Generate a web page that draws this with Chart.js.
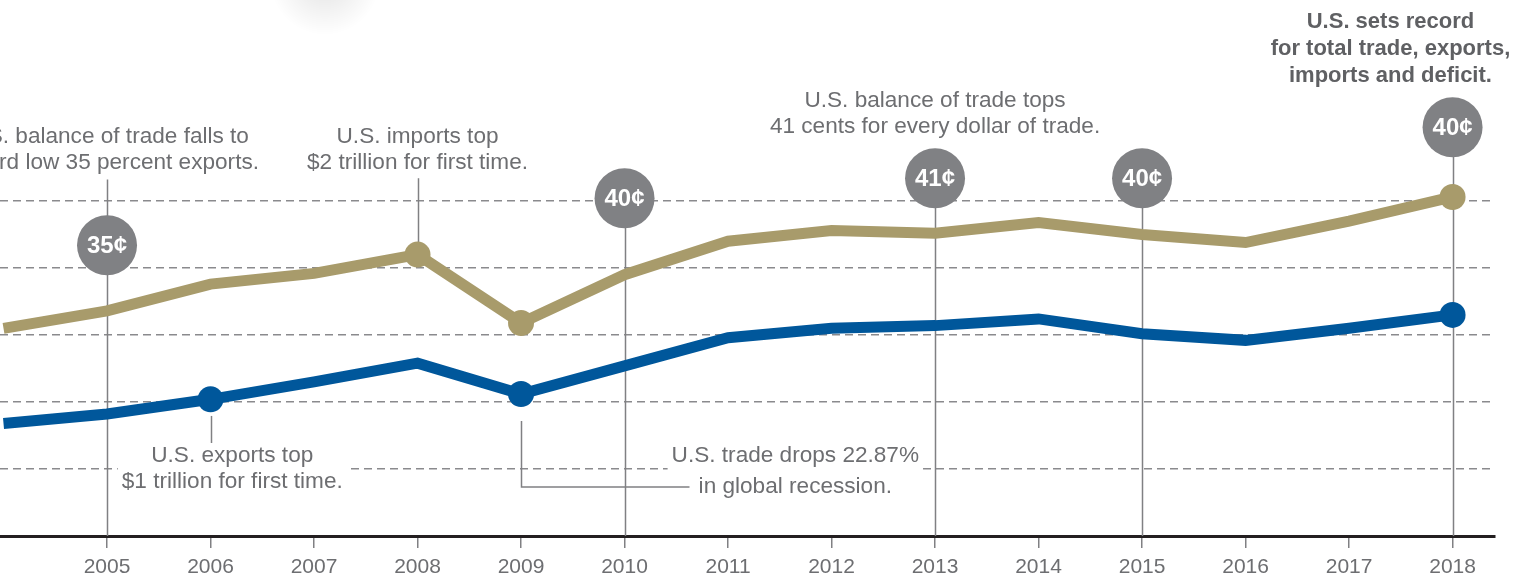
<!DOCTYPE html>
<html>
<head>
<meta charset="utf-8">
<script src="https://cdn.jsdelivr.net/npm/chart.js@4/dist/chart.umd.min.js"></script>
<style>
  html, body { margin: 0; padding: 0; background: #fff; }
  #wrap { width: 1525px; height: 586px; position: relative; }
</style>
</head>
<body>
<div id="wrap"><canvas id="chart"></canvas></div>
<script>
// values in $ trillions
const years = [2004, 2005, 2006, 2007, 2008, 2009, 2010, 2011, 2012, 2013, 2014, 2015, 2016, 2017, 2018];
const imports = [1.55, 1.68, 1.88, 1.96, 2.10, 1.59, 1.95, 2.20, 2.28, 2.26, 2.34, 2.25, 2.19, 2.35, 2.53];
const exports = [0.84, 0.91, 1.02, 1.15, 1.29, 1.06, 1.27, 1.48, 1.55, 1.57, 1.62, 1.51, 1.46, 1.55, 1.65];
const importsMarked = [2008, 2009, 2018];
const exportsMarked = [2006, 2009, 2018];
const gridValues = [0.5, 1.0, 1.5, 2.0, 2.5];

// cents of each trade dollar that were exports
const bubbleYears = [2005, 2010, 2013, 2015, 2018];
const bubbleLabels = ["35¢", "40¢", "41¢", "40¢", "40¢"];
const bubbleLevels = [2.17, 2.52, 2.67, 2.67, 3.05];

const notes = [
  { x: 2005, y: 2.98, lines: ["U.S. balance of trade falls to", "record low 35 percent exports."] },
  { x: 2008, y: 2.98, lines: ["U.S. imports top", "$2 trillion for first time."] },
  { x: 2013, y: 3.25, lines: ["U.S. balance of trade tops", "41 cents for every dollar of trade."] },
  { x: 2006.21, y: 0.597, lines: ["U.S. exports top", "$1 trillion for first time."] },
  { x: 2011.65, y: 0.597, gap: 31, lines: ["U.S. trade drops 22.87%", "in global recession."] },
  { x: 2017.40, y: 3.836, gap: 27, bold: true, lines: ["U.S. sets record", "for total trade, exports,", "imports and deficit."] },
];

const TAN = "#a89b6b";
const BLUE = "#00579b";
const GREY_TEXT = "#6d6e71";
const LEADER = "#808083";

const pts = (vals) => years.map((y, i) => ({ x: y, y: vals[i] }));
const radii = (marked) => years.map((y) => (marked.includes(y) ? 13 : 0));

const annotations = {
  id: "annotations",
  beforeDatasetsDraw(chart) {
    const { ctx, scales: { x, y } } = chart;
    ctx.save();

    // faint shadow of a cropped element at the top
    const g = ctx.createRadialGradient(325, -20, 5, 325, -20, 55);
    g.addColorStop(0, "rgba(0,0,0,0.10)");
    g.addColorStop(1, "rgba(0,0,0,0)");
    ctx.fillStyle = g;
    ctx.fillRect(250, 0, 150, 40);

    // note texts, knocked out of the grid
    notes.forEach((n) => {
      const gap = n.gap || 26;
      ctx.font = (n.bold ? "bold 22px" : "22.6px") + ' "Liberation Sans", Arial, sans-serif';
      const cx = x.getPixelForValue(n.x);
      const cy = y.getPixelForValue(n.y);
      const w = Math.max(...n.lines.map((l) => ctx.measureText(l).width));
      ctx.fillStyle = "#fff";
      ctx.fillRect(cx - w / 2 - 4, cy - 14, w + 8, gap * (n.lines.length - 1) + 28);
      ctx.fillStyle = n.bold ? "#5f6063" : GREY_TEXT;
      ctx.textAlign = "center";
      ctx.textBaseline = "middle";
      n.lines.forEach((l, i) => ctx.fillText(l, cx, cy + i * gap));
    });

    ctx.strokeStyle = LEADER;
    ctx.lineWidth = 1.5;
    const seg = (pairs) => {
      ctx.beginPath();
      pairs.forEach(([a, b], i) => {
        const px = Math.round(x.getPixelForValue(a)) + 0.5;
        const py = y.getPixelForValue(b);
        i ? ctx.lineTo(px, py) : ctx.moveTo(px, py);
      });
      ctx.stroke();
    };
    // bubble stems
    bubbleYears.forEach((yr, i) => seg([[yr, yr === 2005 ? 2.66 : bubbleLevels[i]], [yr, 0]]));
    // other leaders
    seg([[2008, 2.67], [2008, imports[years.indexOf(2008)]]]);
    seg([[2006, 0.896], [2006, 0.694]]);
    seg([[2009, 0.858], [2009, 0.366], [2010.62, 0.366]]);
    ctx.restore();
  },
  afterDatasetsDraw(chart) {
    const { ctx, scales: { x, y } } = chart;
    ctx.save();
    bubbleYears.forEach((yr, i) => {
      const cx = x.getPixelForValue(yr);
      const cy = y.getPixelForValue(bubbleLevels[i]);
      ctx.beginPath();
      ctx.arc(cx, cy, 30, 0, Math.PI * 2);
      ctx.fillStyle = "#808184";
      ctx.fill();
      ctx.fillStyle = "#fff";
      ctx.font = 'bold 24px "Liberation Sans", Arial, sans-serif';
      ctx.textAlign = "center";
      ctx.textBaseline = "middle";
      ctx.fillText(bubbleLabels[i], cx, cy + 1);
    });
    ctx.restore();
  },
};

new Chart(document.getElementById("chart"), {
  type: "line",
  data: {
    datasets: [
      {
        label: "Imports",
        data: pts(imports),
        borderColor: TAN,
        backgroundColor: TAN,
        borderWidth: 11,
        pointRadius: radii(importsMarked),
        pointBorderWidth: 0,
        tension: 0,
      },
      {
        label: "Exports",
        data: pts(exports),
        borderColor: BLUE,
        backgroundColor: BLUE,
        borderWidth: 11,
        pointRadius: radii(exportsMarked),
        pointBorderWidth: 0,
        tension: 0,
      },
    ],
  },
  options: {
    responsive: true,
    maintainAspectRatio: false,
    animation: false,
    layout: { autoPadding: false, padding: { left: 0, right: 30, top: 0, bottom: 0 } },
    plugins: { legend: { display: false }, tooltip: { enabled: false } },
    scales: {
      x: {
        type: "linear",
        min: 2003.966,
        max: 2018.41,
        afterFit: (s) => { s.height = 50; },
        afterBuildTicks: (s) => { s.ticks = s.ticks.filter((t) => t.value >= 2005); },
        ticks: {
          stepSize: 1,
          includeBounds: false,
          autoSkip: false,
          maxRotation: 0,
          padding: 7,
          color: GREY_TEXT,
          font: { family: '"Liberation Sans", Arial, sans-serif', size: 21 },
          callback: (v) => String(v),
        },
        grid: {
          drawOnChartArea: false,
          drawTicks: true,
          tickLength: 12,
          color: LEADER,
          lineWidth: 1.5,
        },
        border: { display: true, color: "#231f20", width: 3 },
      },
      y: {
        min: 0,
        max: 4,
        afterFit: (s) => { s.width = 0; },
        ticks: { display: false, stepSize: 0.5 },
        grid: {
          drawTicks: false,
          lineWidth: 1.5,
          color: (c) => (gridValues.includes(c.tick.value) ? "#8a8a8d" : "rgba(0,0,0,0)"),
        },
        border: { display: false, dash: [8, 5] },
      },
    },
  },
  plugins: [annotations],
});
</script>
</body>
</html>
